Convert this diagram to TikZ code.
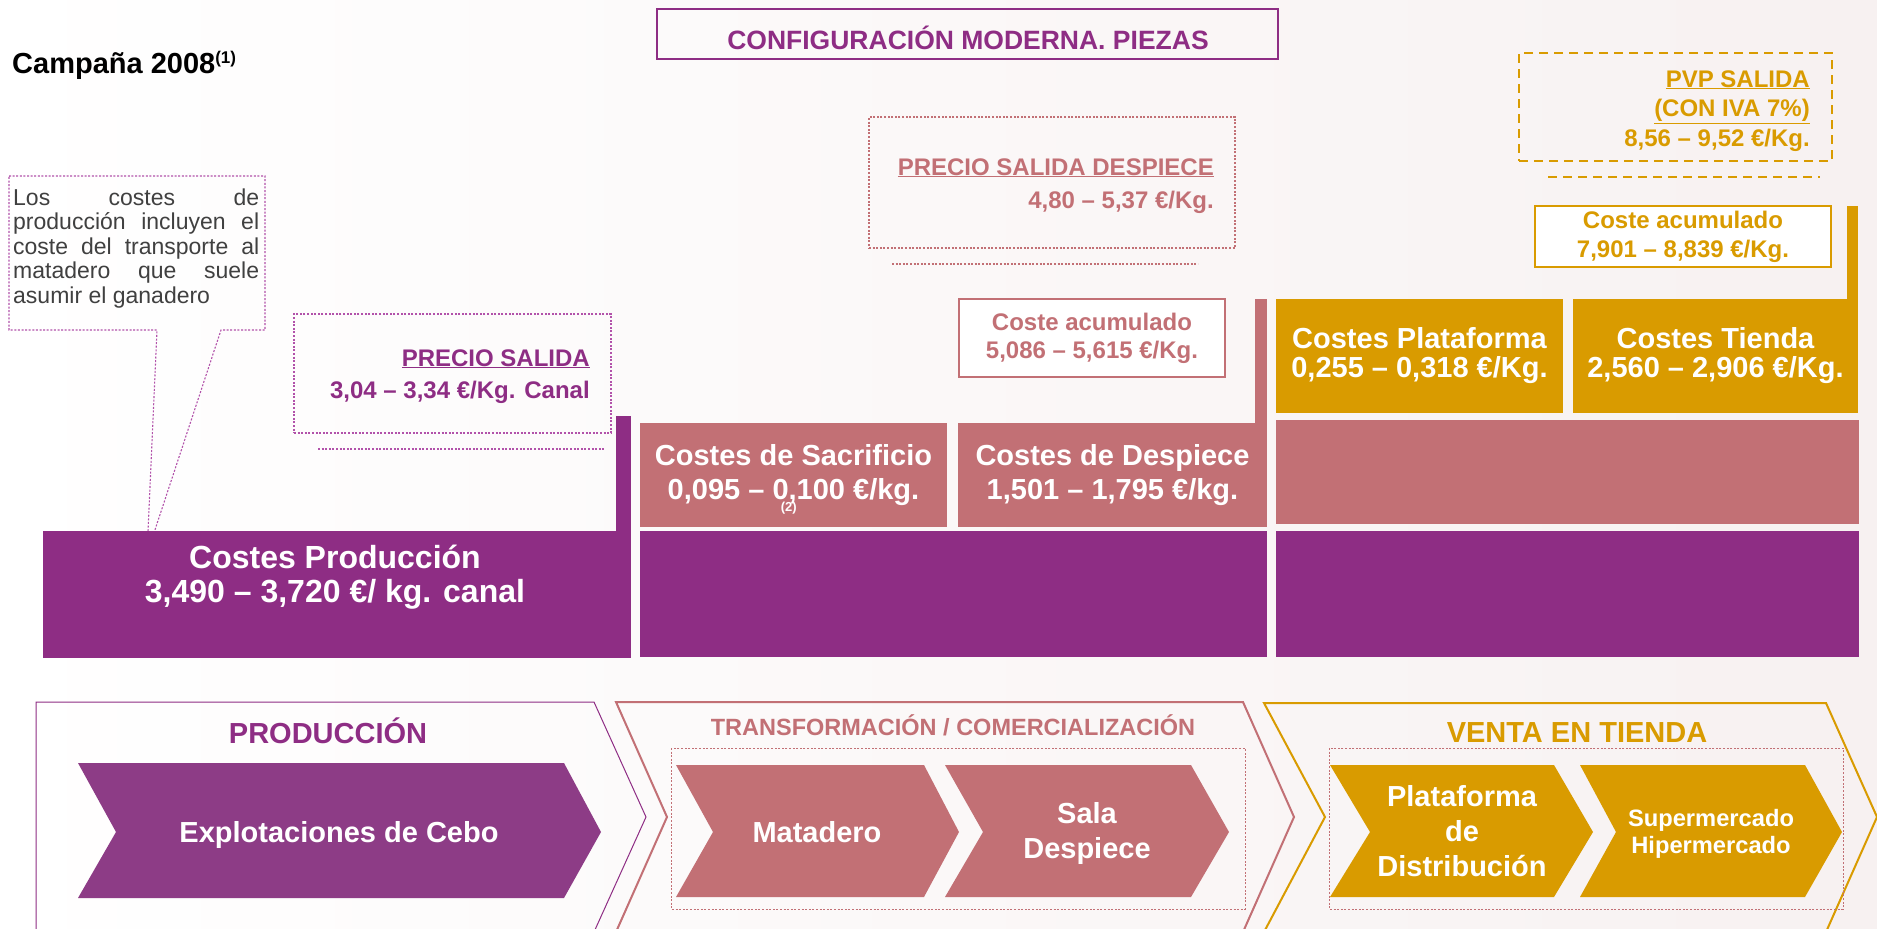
\documentclass[tikz,border=0pt]{standalone}
\usepackage{tikz}
\usepackage{fontspec}
\setmainfont{Liberation Sans}

\definecolor{purp}{RGB}{142,45,132}
\definecolor{chevpurp}{RGB}{141,60,134}
\definecolor{rosa}{RGB}{194,112,117}
\definecolor{oro}{RGB}{217,155,0}
\definecolor{grisT}{RGB}{64,64,64}
\definecolor{lila}{RGB}{178,82,170}
\definecolor{fondo}{RGB}{247,241,241}

\newcommand\fsz[2]{\fontsize{#1}{#2}\selectfont}
\hyphenpenalty=10000
\tolerance=10000

\begin{document}
\begin{tikzpicture}[x=1pt,y=-1pt,
	caja/.style={rectangle,inner sep=0pt,text=white,align=center,font=\bfseries\fsz{29}{34}},
	txt/.style={inner sep=0pt,font=\bfseries},
	punteado/.style={dash pattern=on 2pt off 1.6pt,line width=1.1pt}]

	\useasboundingbox (0,0) rectangle (1877,929);
	\shade[left color=white,right color=fondo] (0,0) rectangle (1877,929);

	% cabecera
	\node[txt,anchor=base west,font=\bfseries\fsz{29}{29}] at (12,73) (campana) {Campaña 2008\raisebox{10pt}{\fsz{17}{17}(1)}};
	\node[draw=purp,line width=1.2pt,minimum width=621,minimum height=50,inner sep=0pt] at (967.5,34) (config) {};
	\node[txt,text=purp,anchor=base,font=\bfseries\fsz{26.5}{26.5}] at (968,49) (configtxt) {CONFIGURACIÓN MODERNA. PIEZAS};

	% nota
	\draw[lila,punteado] (9,176) -- (265,176) -- (265,330) -- (221,330) -- (147,554) -- (157,330) -- (9,330) -- cycle;
	\node[inner sep=0pt,anchor=base west,text width=246pt,align=justify,text=grisT,font=\fsz{23}{24.5}] at (13,205) (notatxt) {Los costes de\linebreak producción incluyen el\linebreak coste del transporte al\linebreak matadero que suele\linebreak asumir el ganadero};

	% precio salida
	\node[draw=lila,punteado,minimum width=317,minimum height=119,inner sep=0pt] at (452.5,373.5) (salida) {};
	\draw[lila,punteado] (318,449) -- (604,449);
	\node[txt,text=purp,anchor=base east,align=right,font=\bfseries\fsz{24}{32}] at (590,398) (salidatxt) {\underline{PRECIO SALIDA}\\3,04 – 3,34 €/Kg. Canal};

	% produccion
	\node[caja,fill=purp,minimum width=588,minimum height=127] at (337,594.5) (prod) {};
	\fill[purp] (prod.north east) rectangle ++(-15,-115);
	\node[txt,text=white,anchor=base,align=center,font=\bfseries\fsz{32}{34}] at (335,602) (prodtxt) {Costes Producción\\3,490 – 3,720 €/ kg. canal};

	% transformacion
	\node[caja,fill=purp,minimum width=627,minimum height=126] at (953.5,594) (transf) {};
	\node[caja,fill=rosa,minimum width=307,minimum height=104] at (793.5,475) (sacrif) {Costes de Sacrificio\\0,095 – 0,\llap{\raisebox{-12pt}[0pt][0pt]{\fsz{13}{13}(2)}}100 €/kg.};
	\node[caja,fill=rosa,minimum width=309,minimum height=104] at (1112.5,475) (despiece) {Costes de Despiece\\1,501 – 1,795 €/kg.};
	\fill[rosa] (despiece.north east) rectangle ++(-12,-124);
	\node[draw=rosa,fill=white,line width=1.5pt,minimum width=266,minimum height=78,inner sep=0pt,text=rosa,align=center,font=\bfseries\fsz{24}{28}] at (1092,338) (acumrosa) {Coste acumulado\\5,086 – 5,615 €/Kg.};
	\node[draw=rosa,punteado,minimum width=366,minimum height=131,inner sep=0pt] at (1052,182.5) (despsal) {};
	\draw[rosa,punteado] (892,264) -- (1198,264);
	\node[txt,text=rosa,anchor=base east,align=right,font=\bfseries\fsz{24}{33}] at (1214,208) (despsaltxt) {\underline{PRECIO SALIDA DESPIECE}\\4,80 – 5,37 €/Kg.};

	% venta
	\node[caja,fill=purp,minimum width=583,minimum height=126] at (1567.5,594) (venta) {};
	\node[caja,fill=rosa,minimum width=583,minimum height=104] at (1567.5,472) (ventarosa) {};
	\node[caja,fill=oro,minimum width=287,minimum height=114,font=\bfseries\fsz{29}{29}] at (1419.5,356) (plat) {Costes Plataforma\\0,255 – 0,318 €/Kg.};
	\node[caja,fill=oro,minimum width=285,minimum height=114,font=\bfseries\fsz{29}{29}] at (1715.5,356) (tienda) {Costes Tienda\\2,560 – 2,906 €/Kg.};
	\fill[oro] (tienda.north east) rectangle ++(-11,-93);
	\node[draw=oro,fill=white,line width=1.5pt,minimum width=296,minimum height=61,inner sep=0pt,text=oro,align=center,font=\bfseries\fsz{24}{29}] at (1683,236.5) (acumoro) {Coste acumulado\\7,901 – 8,839 €/Kg.};
	\node[draw=oro,line width=2.5pt,dash pattern=on 9pt off 6pt,minimum width=313,minimum height=108,inner sep=0pt] at (1675.5,107) (pvp) {};
	\draw[oro,line width=2.5pt,dash pattern=on 9pt off 6pt] (1548,177) -- (1820,177);
	\node[txt,text=oro,anchor=base east,align=right,font=\bfseries\fsz{24}{29.5}] at (1810,146) (pvptxt) {\underline{PVP SALIDA}\\\underline{(CON IVA 7\%)}\\8,56 – 9,52 €/Kg.};

	% cadena de valor
	\draw[purp,line width=1pt] (36,932) -- (36,702) -- (594,702) -- (646,817) -- (594,932);
	\draw[rosa,line width=2pt] (616,702) -- (1243,702) -- (1294,817) -- (1243,932) -- (616,932) -- (667,817) -- cycle;
	\draw[oro,line width=2pt] (1264,703) -- (1826,703) -- (1877,817) -- (1826,932) -- (1264,932) -- (1325,817) -- cycle;
	\draw[rosa,punteado,line width=0.9pt] (671,748) rectangle (1245,909);
	\draw[rosa,punteado,line width=0.9pt] (1329,748) rectangle (1843,909);

	\fill[chevpurp] (78,763) -- (564,763) -- (601,832) -- (564,898) -- (78,898) -- (116,832) -- cycle;
	\fill[rosa] (676,765) -- (924,765) -- (959,832) -- (924,897) -- (676,897) -- (713,832) -- cycle;
	\fill[rosa] (945,765) -- (1191,765) -- (1229,832) -- (1191,897) -- (945,897) -- (983,832) -- cycle;
	\fill[oro] (1330,765) -- (1554,765) -- (1593,832) -- (1554,897) -- (1330,897) -- (1370,832) -- cycle;
	\fill[oro] (1580,765) -- (1805,765) -- (1842,832) -- (1805,897) -- (1580,897) -- (1616,832) -- cycle;

	\node[txt,text=purp,anchor=base,font=\bfseries\fsz{29}{29}] at (328,743) (prodhdr) {PRODUCCIÓN};
	\node[txt,text=white,anchor=base,font=\bfseries\fsz{29}{29}] at (339,842) (explot) {Explotaciones de Cebo};
	\node[txt,text=rosa,anchor=base,font=\bfseries\fsz{23.5}{23.5}] at (953,735) (transhdr) {TRANSFORMACIÓN / COMERCIALIZACIÓN};
	\node[txt,text=white,anchor=base,font=\bfseries\fsz{29}{29}] at (817,842) (matadero) {Matadero};
	\node[txt,text=white,anchor=base,align=center,font=\bfseries\fsz{29}{35}] at (1087,858) (sala) {Sala\\Despiece};
	\node[txt,text=oro,anchor=base,font=\bfseries\fsz{29}{29}] at (1577,742) (ventahdr) {VENTA EN TIENDA};
	\node[txt,text=white,anchor=base,align=center,font=\bfseries\fsz{29}{35}] at (1462,876) (platdist) {Plataforma\\de\\Distribución};
	\node[txt,text=white,anchor=base,align=center,font=\bfseries\fsz{23.7}{27}] at (1711,853) (supermer) {Supermercado\\Hipermercado};
\end{tikzpicture}
\end{document}
